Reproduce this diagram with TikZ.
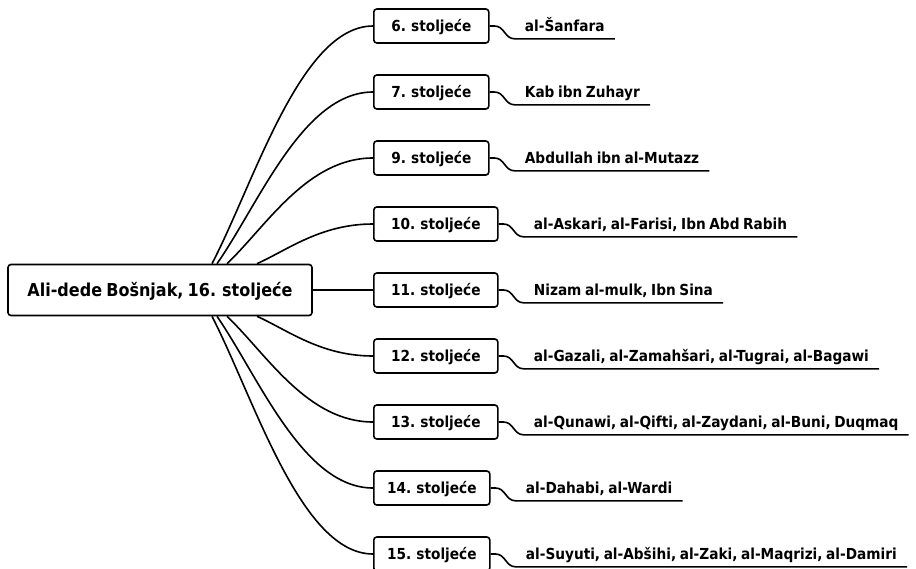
\documentclass[tikz,border=0pt]{standalone}
\usepackage{fontspec}
\setmainfont{DejaVu Sans}[FakeStretch=0.9, WordSpace=0.75]
\begin{document}
\begin{tikzpicture}[x=1pt,y=-1pt,
  line width=1.6pt,
  rootbox/.style={draw, rounded corners=3pt, minimum width=304pt, minimum height=51pt,
    inner sep=0pt, text height=13pt, text depth=0pt,
    font=\bfseries\fontsize{17.8}{20}\selectfont},
  cbox/.style={draw, rounded corners=3pt, minimum height=34pt, anchor=west,
    inner sep=0pt, text height=11pt, text depth=0pt,
    font=\bfseries\fontsize{15.2}{17}\selectfont},
  lab/.style={anchor=west, inner xsep=9.5pt, inner ysep=6.5pt, text height=11pt, text depth=0pt,
    font=\bfseries\fontsize{15.2}{17}\selectfont},
  conn/.style={line width=1.6pt},
  leader/.style={line width=1.6pt}
]
\useasboundingbox (0,0) rectangle (916,568);

\node[rootbox] (root) at (160,290) {Ali-dede Bošnjak, 16. stoljeće};

\node[cbox, minimum width=115pt] (b6)  at (373,26)  {6. stoljeće};
\node[cbox, minimum width=115pt] (b7)  at (373,92)  {7. stoljeće};
\node[cbox, minimum width=115pt] (b9)  at (373,158) {9. stoljeće};
\node[cbox, minimum width=124pt] (b10) at (373,224) {10. stoljeće};
\node[cbox, minimum width=124pt] (b11) at (373,290) {11. stoljeće};
\node[cbox, minimum width=124pt] (b12) at (373,356) {12. stoljeće};
\node[cbox, minimum width=124pt] (b13) at (373,422) {13. stoljeće};
\node[cbox, minimum width=116pt] (b14) at (373,488) {14. stoljeće};
\node[cbox, minimum width=116pt] (b15) at (373,554) {15. stoljeće};

\node[lab] (l6)  at ([xshift=25pt]b6.east)  {al-Šanfara};
\node[lab] (l7)  at ([xshift=25pt]b7.east)  {Kab ibn Zuhayr};
\node[lab] (l9)  at ([xshift=25pt]b9.east)  {Abdullah ibn al-Mutazz};
\node[lab] (l10) at ([xshift=25pt]b10.east) {al-Askari, al-Farisi, Ibn Abd Rabih};
\node[lab] (l11) at ([xshift=25pt]b11.east) {Nizam al-mulk, Ibn Sina};
\node[lab] (l12) at ([xshift=25pt]b12.east) {al-Gazali, al-Zamahšari, al-Tugrai, al-Bagawi};
\node[lab] (l13) at ([xshift=25pt]b13.east) {al-Qunawi, al-Qifti, al-Zaydani, al-Buni, Duqmaq};
\node[lab] (l14) at ([xshift=25pt]b14.east) {al-Dahabi, al-Wardi};
\node[lab] (l15) at ([xshift=25pt]b15.east) {al-Suyuti, al-Abšihi, al-Zaki, al-Maqrizi, al-Damiri};

\coordinate (s6)  at ([xshift=52pt]root.north);
\coordinate (s7)  at ([xshift=57pt]root.north);
\coordinate (s9)  at ([xshift=67pt]root.north);
\coordinate (s10) at ([xshift=97pt]root.north);
\coordinate (s12) at ([xshift=97pt]root.south);
\coordinate (s13) at ([xshift=67pt]root.south);
\coordinate (s14) at ([xshift=57pt]root.south);
\coordinate (s15) at ([xshift=52pt]root.south);

\draw[conn] (s6)  .. controls +(43,-83) and +(-72,0) .. (b6.west);
\draw[conn] (s7)  .. controls +(42,-60) and +(-70,0) .. (b7.west);
\draw[conn] (s9)  .. controls +(39,-37) and +(-66,0) .. (b9.west);
\draw[conn] (s10) .. controls +(31,-14) and +(-52,0) .. (b10.west);
\draw[conn] (root.east) -- (b11.west);
\draw[conn] (s12) .. controls +(31,14) and +(-52,0) .. (b12.west);
\draw[conn] (s13) .. controls +(39,37) and +(-66,0) .. (b13.west);
\draw[conn] (s14) .. controls +(42,61) and +(-70,0) .. (b14.west);
\draw[conn] (s15) .. controls +(43,84) and +(-72,0) .. (b15.west);

\foreach \i in {6,7,9,10,11,12,13,14,15}{
  \draw[leader] (b\i.east) -- ([xshift=5pt]b\i.east) .. controls +(10,0) and +(-10,0) .. (l\i.south west) -- (l\i.south east);
}
\end{tikzpicture}
\end{document}
